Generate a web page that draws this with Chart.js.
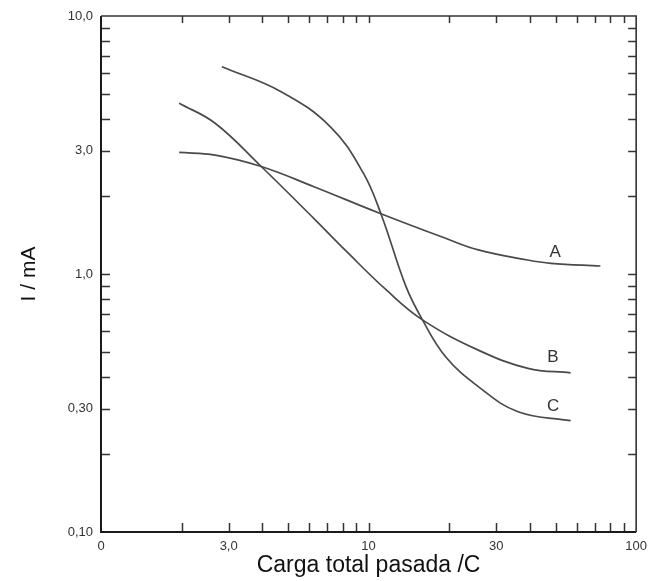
<!DOCTYPE html>
<html>
<head>
<meta charset="utf-8">
<script src="https://cdn.jsdelivr.net/npm/chart.js@4.4.1/dist/chart.umd.min.js"></script>
<style>
  html, body { margin: 0; padding: 0; background: #ffffff; }
  #wrap { width: 654px; height: 581px; position: relative; }
</style>
</head>
<body>
<div id="wrap"><canvas id="c" width="654" height="581"></canvas></div>
<script>
// ---- data (log-log plot) ----
const seriesA_x = [1.96, 2.67, 3.97, 6.25, 11.0, 19.4, 25.7, 39.3, 48.0, 73.5];
const seriesA_y = [2.96, 2.89, 2.61, 2.18, 1.72, 1.375, 1.24, 1.133, 1.10, 1.074];

const seriesB_x = [1.96, 2.67, 3.97, 6.25, 8.29, 11.65, 15.9, 25.7, 39.4, 56.9];
const seriesB_y = [4.59, 3.84, 2.61, 1.64, 1.22, 0.867, 0.664, 0.507, 0.431, 0.414];

const seriesC_x = [2.83, 4.71, 7.20, 9.56, 11.17, 13.8, 15.9, 19.4, 25.7, 36.2, 56.9];
const seriesC_y = [6.36, 5.09, 3.72, 2.46, 1.69, 0.893, 0.664, 0.478, 0.366, 0.2925, 0.270];

const curveNames = ['A', 'B', 'C'];
const curveLabelX = [49.8, 48.9, 48.9];
const curveLabelY = [1.21, 0.477, 0.308];

const xTickValues = [1, 3, 10, 30, 100];
const xTickLabels = ['0', '3,0', '10', '30', '100'];
const yTickValues = [0.1, 0.3, 1, 3, 10];
const yTickLabels = ['0,10', '0,30', '1,0', '3,0', '10,0'];

const xMinorTicks = [2, 3, 4, 5, 6, 7, 8, 9, 10, 20, 30, 40, 50, 60, 70, 80, 90];
const yMinorTicks = [0.2, 0.3, 0.4, 0.5, 0.6, 0.7, 0.8, 0.9, 1, 2, 3, 4, 5, 6, 7, 8, 9];

const xTitle = 'Carga total pasada /C';
const yTitle = 'I / mA';

// ---- build chart ----
function pts(xs, ys) { return xs.map((x, i) => ({ x: x, y: ys[i] })); }

const lineColor = '#4a4a4a';
function ds(label, xs, ys) {
  return {
    label: label,
    data: pts(xs, ys),
    borderColor: lineColor,
    borderWidth: 1.7,
    pointRadius: 0,
    fill: false,
    tension: 0.4
  };
}

const FONT = '"Liberation Sans", Arial, sans-serif';

const framePlugin = {
  id: 'framePlugin',
  afterDatasetsDraw(chart) {
    const ctx = chart.ctx;
    const a = chart.chartArea;
    const xs = chart.scales.x, ys = chart.scales.y;
    ctx.save();
    ctx.strokeStyle = '#333';
    ctx.lineWidth = 1.5;
    xMinorTicks.forEach(v => {
      const px = Math.round(xs.getPixelForValue(v)) + 0.5;
      ctx.beginPath(); ctx.moveTo(px, a.bottom); ctx.lineTo(px, a.bottom - 9); ctx.stroke();
      ctx.beginPath(); ctx.moveTo(px, a.top); ctx.lineTo(px, a.top + 7); ctx.stroke();
    });
    yMinorTicks.forEach(v => {
      const py = Math.round(ys.getPixelForValue(v)) + 0.5;
      ctx.beginPath(); ctx.moveTo(a.left, py); ctx.lineTo(a.left + 9, py); ctx.stroke();
      ctx.beginPath(); ctx.moveTo(a.right, py); ctx.lineTo(a.right - 8, py); ctx.stroke();
    });
    ctx.strokeStyle = '#1a1a1a';
    ctx.lineWidth = 2;
    ctx.beginPath();
    ctx.moveTo(a.left, a.top); ctx.lineTo(a.left, a.bottom); ctx.lineTo(a.right, a.bottom);
    ctx.stroke();
    ctx.lineWidth = 1.6;
    ctx.strokeStyle = '#333';
    ctx.beginPath();
    ctx.moveTo(a.left, a.top); ctx.lineTo(a.right, a.top); ctx.lineTo(a.right, a.bottom);
    ctx.stroke();
    ctx.fillStyle = '#333';
    ctx.font = '17px ' + FONT;
    ctx.textAlign = 'center';
    ctx.textBaseline = 'middle';
    curveNames.forEach((n, i) => {
      ctx.fillText(n, xs.getPixelForValue(curveLabelX[i]), ys.getPixelForValue(curveLabelY[i]));
    });
    ctx.restore();
  }
};

new Chart(document.getElementById('c'), {
  type: 'line',
  data: {
    datasets: [
      ds('A', seriesA_x, seriesA_y),
      ds('B', seriesB_x, seriesB_y),
      ds('C', seriesC_x, seriesC_y)
    ]
  },
  options: {
    responsive: false,
    animation: false,
    devicePixelRatio: 1,
    layout: { padding: { top: 16, right: 11, left: 0, bottom: 0 } },
    plugins: { legend: { display: false }, tooltip: { enabled: false } },
    scales: {
      x: {
        type: 'logarithmic',
        min: 1, max: 100,
        afterFit: s => { s.height = 49; },
        afterBuildTicks: s => { s.ticks = xTickValues.map(v => ({ value: v, major: true })); },
        grid: { display: false, drawTicks: false },
        border: { display: false },
        ticks: {
          autoSkip: false, maxRotation: 0, minRotation: 0, padding: 7,
          color: '#333',
          font: { family: FONT, size: 13 },
          callback: (v, i) => xTickLabels[i]
        },
        title: {
          display: true, text: xTitle, color: '#111',
          font: { family: FONT, size: 23 },
          padding: { top: 0, bottom: 2 }
        }
      },
      y: {
        type: 'logarithmic',
        min: 0.1, max: 10,
        afterFit: s => { s.width = 101; },
        afterBuildTicks: s => { s.ticks = yTickValues.map(v => ({ value: v, major: true })); },
        grid: { display: false, drawTicks: false },
        border: { display: false },
        ticks: {
          autoSkip: false, padding: 8,
          color: '#333',
          font: { family: FONT, size: 13 },
          callback: (v, i) => yTickLabels[i]
        },
        title: {
          display: true, text: yTitle, color: '#111',
          font: { family: FONT, size: 21 },
          padding: { top: 17, bottom: 0 }
        }
      }
    }
  },
  plugins: [framePlugin]
});
</script>
</body>
</html>
